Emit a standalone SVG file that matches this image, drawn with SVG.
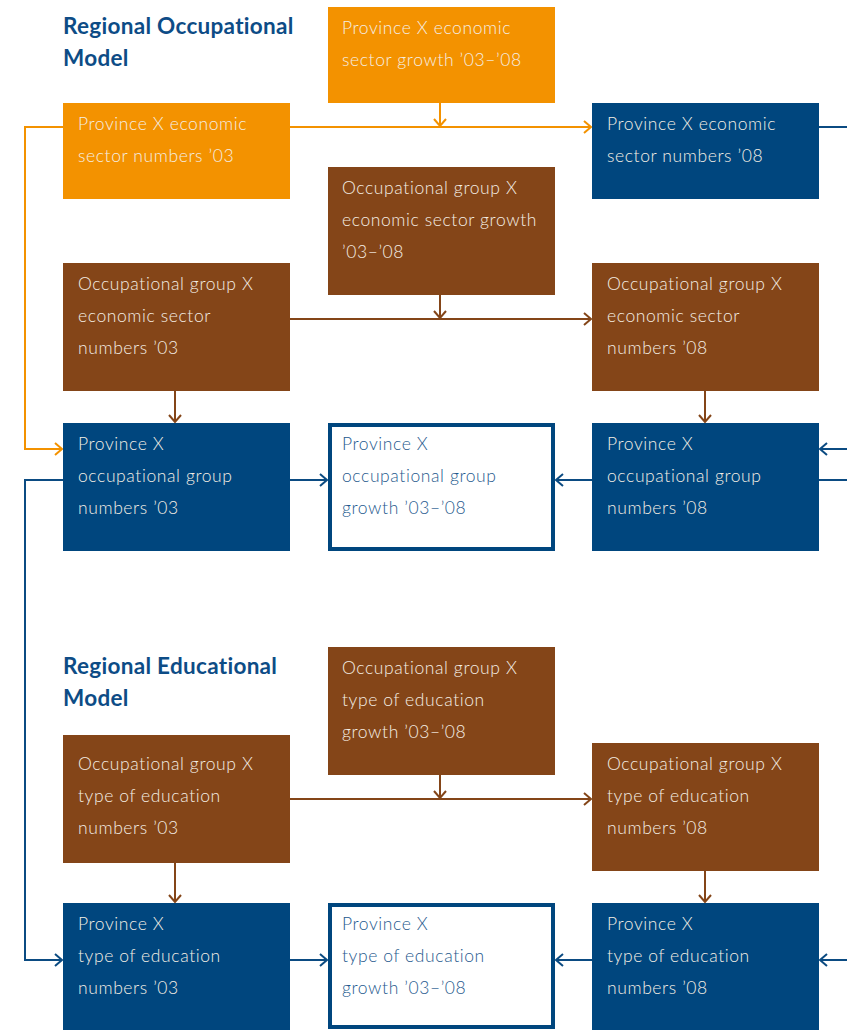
<svg xmlns="http://www.w3.org/2000/svg" width="847" height="1030" viewBox="0 0 847 1030">
<style>
.t{font-family:Lato,"Open Sans",sans-serif;font-weight:300;font-size:17.5px;fill:#f4eee4;letter-spacing:0.6px}
.tb{font-family:Lato,"Open Sans",sans-serif;font-weight:300;font-size:17.5px;fill:#1f5a8e;letter-spacing:0.6px}
.h{font-family:Lato,"Open Sans",sans-serif;font-weight:700;font-size:22.5px;fill:#0d4c86;letter-spacing:0.3px}
.or{fill:#f39200}.br{fill:#844518}.bl{fill:#00467e}
.wb{fill:#fff;stroke:#00467e;stroke-width:4}
.c{fill:none;stroke-width:2}
.co{stroke:#f39200}.cb{stroke:#844518}.cu{stroke:#0b4b82}
</style>
<defs>
<marker id="ao" viewBox="-9 -8 11 16" markerWidth="11" markerHeight="16" refX="0" refY="0" orient="auto" markerUnits="userSpaceOnUse"><path d="M-7,-6 L0,0 L-7,6" fill="none" stroke="#f39200" stroke-width="2"/></marker>
<marker id="ab" viewBox="-9 -8 11 16" markerWidth="11" markerHeight="16" refX="0" refY="0" orient="auto" markerUnits="userSpaceOnUse"><path d="M-7,-6 L0,0 L-7,6" fill="none" stroke="#844518" stroke-width="2"/></marker>
<marker id="au" viewBox="-9 -8 11 16" markerWidth="11" markerHeight="16" refX="0" refY="0" orient="auto" markerUnits="userSpaceOnUse"><path d="M-7,-6 L0,0 L-7,6" fill="none" stroke="#0b4b82" stroke-width="2"/></marker>
</defs>
<rect width="847" height="1030" fill="#fff"/>
<g id="connectors">
<path class="c co" d="M440,103 V126" marker-end="url(#ao)"/>
<path class="c co" d="M290,127 H591" marker-end="url(#ao)"/>
<path class="c co" d="M63,127 H25 V449 H62" marker-end="url(#ao)"/>
<path class="c cu" d="M819,127 H847"/>
<path class="c cu" d="M847,449 H820" marker-end="url(#au)"/>
<path class="c cu" d="M819,480 H847"/>
<path class="c cu" d="M290,480 H327" marker-end="url(#au)"/>
<path class="c cu" d="M592,480 H556" marker-end="url(#au)"/>
<path class="c cu" d="M63,480 H25 V960 H62" marker-end="url(#au)"/>
<path class="c cu" d="M290,960 H327" marker-end="url(#au)"/>
<path class="c cu" d="M592,960 H556" marker-end="url(#au)"/>
<path class="c cu" d="M847,960 H820" marker-end="url(#au)"/>
<path class="c cb" d="M440,295 V318" marker-end="url(#ab)"/>
<path class="c cb" d="M290,319 H591" marker-end="url(#ab)"/>
<path class="c cb" d="M175,391 V422" marker-end="url(#ab)"/>
<path class="c cb" d="M705,391 V422" marker-end="url(#ab)"/>
<path class="c cb" d="M440,775 V798" marker-end="url(#ab)"/>
<path class="c cb" d="M290,799 H591" marker-end="url(#ab)"/>
<path class="c cb" d="M175,863 V902" marker-end="url(#ab)"/>
<path class="c cb" d="M705,871 V902" marker-end="url(#ab)"/>
</g>
<g id="title1"><text class="h" x="63" y="34">Regional Occupational</text><text class="h" x="63" y="66">Model</text></g>
<g id="title2"><text class="h" x="63" y="674">Regional Educational</text><text class="h" x="63" y="706">Model</text></g>
<g id="n-sector-growth"><rect class="or" x="328" y="7" width="227" height="96"/><text class="t" x="342" y="34">Province X economic</text><text class="t" x="342" y="66">sector growth ’03–’08</text></g>
<g id="n-sector-03"><rect class="or" x="63" y="103" width="227" height="96"/><text class="t" x="78" y="130">Province X economic</text><text class="t" x="78" y="162">sector numbers ’03</text></g>
<g id="n-sector-08"><rect class="bl" x="592" y="103" width="227" height="96"/><text class="t" x="607" y="130">Province X economic</text><text class="t" x="607" y="162">sector numbers ’08</text></g>
<g id="n-occsec-growth"><rect class="br" x="328" y="167" width="227" height="128"/><text class="t" x="342" y="194">Occupational group X</text><text class="t" x="342" y="226">economic sector growth</text><text class="t" x="342" y="258">’03–’08</text></g>
<g id="n-occsec-03"><rect class="br" x="63" y="263" width="227" height="128"/><text class="t" x="78" y="290">Occupational group X</text><text class="t" x="78" y="322">economic sector</text><text class="t" x="78" y="354">numbers ’03</text></g>
<g id="n-occsec-08"><rect class="br" x="592" y="263" width="227" height="128"/><text class="t" x="607" y="290">Occupational group X</text><text class="t" x="607" y="322">economic sector</text><text class="t" x="607" y="354">numbers ’08</text></g>
<g id="n-occ-03"><rect class="bl" x="63" y="423" width="227" height="128"/><text class="t" x="78" y="450">Province X</text><text class="t" x="78" y="482">occupational group</text><text class="t" x="78" y="514">numbers ’03</text></g>
<g id="n-occ-growth"><rect class="wb" x="330" y="425" width="223" height="124"/><text class="tb" x="342" y="450">Province X</text><text class="tb" x="342" y="482">occupational group</text><text class="tb" x="342" y="514">growth ’03–’08</text></g>
<g id="n-occ-08"><rect class="bl" x="592" y="423" width="227" height="128"/><text class="t" x="607" y="450">Province X</text><text class="t" x="607" y="482">occupational group</text><text class="t" x="607" y="514">numbers ’08</text></g>
<g id="n-occedu-growth"><rect class="br" x="328" y="647" width="227" height="128"/><text class="t" x="342" y="674">Occupational group X</text><text class="t" x="342" y="706">type of education</text><text class="t" x="342" y="738">growth ’03–’08</text></g>
<g id="n-occedu-03"><rect class="br" x="63" y="735" width="227" height="128"/><text class="t" x="78" y="770">Occupational group X</text><text class="t" x="78" y="802">type of education</text><text class="t" x="78" y="834">numbers ’03</text></g>
<g id="n-occedu-08"><rect class="br" x="592" y="743" width="227" height="128"/><text class="t" x="607" y="770">Occupational group X</text><text class="t" x="607" y="802">type of education</text><text class="t" x="607" y="834">numbers ’08</text></g>
<g id="n-edu-03"><rect class="bl" x="63" y="903" width="227" height="127"/><text class="t" x="78" y="930">Province X</text><text class="t" x="78" y="962">type of education</text><text class="t" x="78" y="994">numbers ’03</text></g>
<g id="n-edu-growth"><rect class="wb" x="330" y="905" width="223" height="122"/><text class="tb" x="342" y="930">Province X</text><text class="tb" x="342" y="962">type of education</text><text class="tb" x="342" y="994">growth ’03–’08</text></g>
<g id="n-edu-08"><rect class="bl" x="592" y="903" width="227" height="127"/><text class="t" x="607" y="930">Province X</text><text class="t" x="607" y="962">type of education</text><text class="t" x="607" y="994">numbers ’08</text></g>
</svg>
